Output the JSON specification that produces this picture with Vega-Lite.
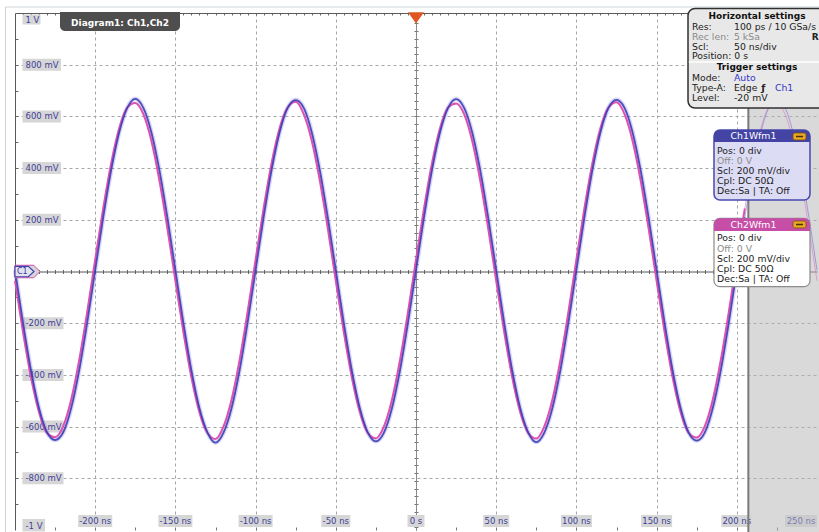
{
"$schema":"https://vega.github.io/schema/vega-lite/v6.json",
"width":802,"height":517,"autosize":"none",
"padding":{"left":15,"top":13,"right":2,"bottom":2},
"background":"#ffffff",
"config":{"view":{"stroke":null},"font":"DejaVu Sans"},
"data":{"values":[{}]},
"datasets":{
"wave":[
{"t":-250,"c1":0.005,"c2":-0.036},{"t":-245,"c1":-0.199,"c2":-0.234},{"t":-240,"c1":-0.383,"c2":-0.409},{"t":-235,"c1":-0.529,"c2":-0.544},{"t":-230,"c1":-0.623,"c2":-0.625},{"t":-225,"c1":-0.652,"c2":-0.641},{"t":-220,"c1":-0.623,"c2":-0.599},{"t":-215,"c1":-0.529,"c2":-0.496},{"t":-210,"c1":-0.383,"c2":-0.343},{"t":-205,"c1":-0.199,"c2":-0.157},
{"t":-200,"c1":0.005,"c2":0.046},{"t":-195,"c1":0.209,"c2":0.244},{"t":-190,"c1":0.393,"c2":0.419},{"t":-185,"c1":0.539,"c2":0.554},{"t":-180,"c1":0.633,"c2":0.635},{"t":-175,"c1":0.668,"c2":0.652},{"t":-170,"c1":0.633,"c2":0.609},{"t":-165,"c1":0.539,"c2":0.506},{"t":-160,"c1":0.393,"c2":0.353},{"t":-155,"c1":0.209,"c2":0.167},
{"t":-150,"c1":0.005,"c2":-0.036},{"t":-145,"c1":-0.199,"c2":-0.234},{"t":-140,"c1":-0.383,"c2":-0.409},{"t":-135,"c1":-0.529,"c2":-0.544},{"t":-130,"c1":-0.623,"c2":-0.625},{"t":-125,"c1":-0.662,"c2":-0.648},{"t":-120,"c1":-0.623,"c2":-0.599},{"t":-115,"c1":-0.529,"c2":-0.496},{"t":-110,"c1":-0.383,"c2":-0.343},{"t":-105,"c1":-0.199,"c2":-0.157},
{"t":-100,"c1":0.005,"c2":0.046},{"t":-95,"c1":0.209,"c2":0.244},{"t":-90,"c1":0.393,"c2":0.419},{"t":-85,"c1":0.539,"c2":0.554},{"t":-80,"c1":0.633,"c2":0.635},{"t":-75,"c1":0.663,"c2":0.657},{"t":-70,"c1":0.633,"c2":0.609},{"t":-65,"c1":0.539,"c2":0.506},{"t":-60,"c1":0.393,"c2":0.353},{"t":-55,"c1":0.209,"c2":0.167},
{"t":-50,"c1":0.005,"c2":-0.036},{"t":-45,"c1":-0.199,"c2":-0.234},{"t":-40,"c1":-0.383,"c2":-0.409},{"t":-35,"c1":-0.529,"c2":-0.544},{"t":-30,"c1":-0.623,"c2":-0.625},{"t":-25,"c1":-0.657,"c2":-0.645},{"t":-20,"c1":-0.623,"c2":-0.599},{"t":-15,"c1":-0.529,"c2":-0.496},{"t":-10,"c1":-0.383,"c2":-0.343},{"t":-5,"c1":-0.199,"c2":-0.157},
{"t":0,"c1":0.005,"c2":0.046},{"t":5,"c1":0.209,"c2":0.244},{"t":10,"c1":0.393,"c2":0.419},{"t":15,"c1":0.539,"c2":0.554},{"t":20,"c1":0.633,"c2":0.635},{"t":25,"c1":0.667,"c2":0.650},{"t":30,"c1":0.633,"c2":0.609},{"t":35,"c1":0.539,"c2":0.506},{"t":40,"c1":0.393,"c2":0.353},{"t":45,"c1":0.209,"c2":0.167},
{"t":50,"c1":0.005,"c2":-0.036},{"t":55,"c1":-0.199,"c2":-0.234},{"t":60,"c1":-0.383,"c2":-0.409},{"t":65,"c1":-0.529,"c2":-0.544},{"t":70,"c1":-0.623,"c2":-0.625},{"t":75,"c1":-0.660,"c2":-0.646},{"t":80,"c1":-0.623,"c2":-0.599},{"t":85,"c1":-0.529,"c2":-0.496},{"t":90,"c1":-0.383,"c2":-0.343},{"t":95,"c1":-0.199,"c2":-0.157},
{"t":100,"c1":0.005,"c2":0.046},{"t":105,"c1":0.209,"c2":0.244},{"t":110,"c1":0.393,"c2":0.419},{"t":115,"c1":0.539,"c2":0.554},{"t":120,"c1":0.633,"c2":0.635},{"t":125,"c1":0.664,"c2":0.655},{"t":130,"c1":0.633,"c2":0.609},{"t":135,"c1":0.539,"c2":0.506},{"t":140,"c1":0.393,"c2":0.353},{"t":145,"c1":0.209,"c2":0.167},
{"t":150,"c1":0.005,"c2":-0.036},{"t":155,"c1":-0.199,"c2":-0.234},{"t":160,"c1":-0.383,"c2":-0.409},{"t":165,"c1":-0.529,"c2":-0.544},{"t":170,"c1":-0.623,"c2":-0.625},{"t":175,"c1":-0.654,"c2":-0.642},{"t":180,"c1":-0.623,"c2":-0.599},{"t":185,"c1":-0.529,"c2":-0.496},{"t":190,"c1":-0.383,"c2":-0.343},{"t":195,"c1":-0.199,"c2":-0.157},
{"t":200,"c1":0.005,"c2":0.046},{"t":205,"c1":0.209,"c2":0.244},{"t":210,"c1":0.393,"c2":0.419},{"t":215,"c1":0.539,"c2":0.554},{"t":220,"c1":0.633,"c2":0.635},{"t":225,"c1":0.661,"c2":0.653},{"t":230,"c1":0.633,"c2":0.609},{"t":235,"c1":0.539,"c2":0.506},{"t":240,"c1":0.393,"c2":0.353},{"t":245,"c1":0.209,"c2":0.167},
{"t":250,"c1":0.005,"c2":-0.036}
],
"ylab":[{"v":1,"label":"1 V"},{"v":0.8,"label":"800 mV"},{"v":0.6,"label":"600 mV"},{"v":0.4,"label":"400 mV"},{"v":0.2,"label":"200 mV"},{"v":-0.2,"label":"-200 mV"},{"v":-0.4,"label":"-400 mV"},{"v":-0.6,"label":"-600 mV"},{"v":-0.8,"label":"-800 mV"},{"v":-1,"label":"-1 V"}],
"xlab":[{"t":-200,"label":"-200 ns"},{"t":-150,"label":"-150 ns"},{"t":-100,"label":"-100 ns"},{"t":-50,"label":"-50 ns"},{"t":0,"label":"0 s"},{"t":50,"label":"50 ns"},{"t":100,"label":"100 ns"},{"t":150,"label":"150 ns"},{"t":200,"label":"200 ns"},{"t":250,"label":"250 ns"}]
},
"resolve":{"axis":{"x":"independent","y":"independent"}},
"layer":[
{"mark":{"type":"point","opacity":0},"encoding":{
 "x":{"datum":0,"type":"quantitative","scale":{"domain":[-250,250],"nice":false,"zero":false},"axis":{"orient":"bottom","values":[-200,-150,-100,-50,0,50,100,150,200],"grid":true,"gridColor":"#a6a6a6","gridDash":[3,3],"gridWidth":1,"ticks":false,"labels":false,"domain":false,"title":null}},
 "y":{"datum":0,"type":"quantitative","scale":{"domain":[-1,1],"nice":false,"zero":false},"axis":{"orient":"left","values":[-0.8,-0.6,-0.4,-0.2,0.2,0.4,0.6,0.8],"grid":true,"gridColor":"#a6a6a6","gridDash":[3,3],"gridWidth":1,"ticks":false,"labels":false,"domain":false,"title":null}}}},
{"mark":{"type":"point","opacity":0},"encoding":{
 "x":{"datum":0,"type":"quantitative","axis":{"orient":"top","values":[-245,-240,-235,-230,-225,-220,-215,-210,-205,-200,-195,-190,-185,-180,-175,-170,-165,-160,-155,-150,-145,-140,-135,-130,-125,-120,-115,-110,-105,-100,-95,-90,-85,-80,-75,-70,-65,-60,-55,-50,-45,-40,-35,-30,-25,-20,-15,-10,-5,0,5,10,15,20,25,30,35,40,45,50,55,60,65,70,75,80,85,90,95,100,105,110,115,120,125,130,135,140,145,150,155,160,165,170,175,180,185,190,195,200,205,210,215,220,225,230,235,240,245],"grid":false,"tickSize":-2,"tickColor":"#666666","labels":false,"domain":true,"domainColor":"#5a5a5a","title":null}},
 "y":{"datum":0,"type":"quantitative","axis":{"orient":"left","values":[-0.9,-0.8,-0.7,-0.6,-0.5,-0.4,-0.3,-0.2,-0.1,0,0.1,0.2,0.3,0.4,0.5,0.6,0.7,0.8,0.9],"grid":false,"tickSize":-3,"tickColor":"#666666","labels":false,"domain":true,"domainColor":"#5a5a5a","title":null}}}},
{"mark":{"type":"point","opacity":0},"encoding":{
 "x":{"datum":0,"type":"quantitative","axis":{"orient":"bottom","values":[-225,-200,-175,-150,-125,-100,-75,-50,-25,0,25,50,75,100,125,150,175,200,225],"grid":false,"tickSize":-3,"tickColor":"#777777","labels":false,"domain":false,"title":null}},
 "y":{"datum":0,"type":"quantitative","axis":{"orient":"left","offset":-401,"values":[-0.99,-0.96,-0.93,-0.9,-0.87,-0.84,-0.81,-0.78,-0.75,-0.72,-0.69,-0.66,-0.63,-0.6,-0.57,-0.54,-0.51,-0.48,-0.45,-0.42,-0.39,-0.36,-0.33,-0.3,-0.27,-0.24,-0.21,-0.18,-0.15,-0.12,-0.09,-0.06,-0.03,0,0.03,0.06,0.09,0.12,0.15,0.18,0.21,0.24,0.27,0.3,0.33,0.36,0.39,0.42,0.45,0.48,0.51,0.54,0.57,0.6,0.63,0.66,0.69,0.72,0.75,0.78,0.81,0.84,0.87,0.9,0.93,0.96,0.99],"grid":false,"tickSize":2,"tickColor":"#777777","labels":false,"domain":true,"domainColor":"#8a8a8a","title":null}}}},
{"mark":{"type":"point","opacity":0},"encoding":{
 "x":{"datum":0,"type":"quantitative","axis":{"orient":"bottom","offset":-258.5,"values":[-245,-240,-235,-230,-225,-220,-215,-210,-205,-200,-195,-190,-185,-180,-175,-170,-165,-160,-155,-150,-145,-140,-135,-130,-125,-120,-115,-110,-105,-100,-95,-90,-85,-80,-75,-70,-65,-60,-55,-50,-45,-40,-35,-30,-25,-20,-15,-10,-5,0,5,10,15,20,25,30,35,40,45,50,55,60,65,70,75,80,85,90,95,100,105,110,115,120,125,130,135,140,145,150,155,160,165,170,175,180,185,190,195,200,205,210,215,220,225,230,235,240,245],"grid":false,"tickSize":2,"tickColor":"#666666","labels":false,"domain":true,"domainColor":"#555555","title":null}},
 "y":{"datum":0,"type":"quantitative","axis":{"orient":"right","offset":-401,"values":[-0.99,-0.96,-0.93,-0.9,-0.87,-0.84,-0.81,-0.78,-0.75,-0.72,-0.69,-0.66,-0.63,-0.6,-0.57,-0.54,-0.51,-0.48,-0.45,-0.42,-0.39,-0.36,-0.33,-0.3,-0.27,-0.24,-0.21,-0.18,-0.15,-0.12,-0.09,-0.06,-0.03,0,0.03,0.06,0.09,0.12,0.15,0.18,0.21,0.24,0.27,0.3,0.33,0.36,0.39,0.42,0.45,0.48,0.51,0.54,0.57,0.6,0.63,0.66,0.69,0.72,0.75,0.78,0.81,0.84,0.87,0.9,0.93,0.96,0.99],"grid":false,"tickSize":2,"tickColor":"#777777","labels":false,"domain":false,"title":null}}}},
{"mark":{"type":"point","opacity":0},"encoding":{
 "x":{"datum":0,"type":"quantitative","axis":{"orient":"top","offset":-258.5,"values":[-245,-240,-235,-230,-225,-220,-215,-210,-205,-200,-195,-190,-185,-180,-175,-170,-165,-160,-155,-150,-145,-140,-135,-130,-125,-120,-115,-110,-105,-100,-95,-90,-85,-80,-75,-70,-65,-60,-55,-50,-45,-40,-35,-30,-25,-20,-15,-10,-5,0,5,10,15,20,25,30,35,40,45,50,55,60,65,70,75,80,85,90,95,100,105,110,115,120,125,130,135,140,145,150,155,160,165,170,175,180,185,190,195,200,205,210,215,220,225,230,235,240,245],"grid":false,"tickSize":2,"tickColor":"#666666","labels":false,"domain":false,"title":null}},
 "y":{"datum":0,"type":"quantitative","axis":null}}},
{"mark":{"type":"rule","stroke":"#cdd5db","strokeWidth":1},"encoding":{"x":{"datum":-255.9,"type":"quantitative","axis":null},"y":{"datum":1.0232,"type":"quantitative","axis":null},"y2":{"datum":-1.02}}},
{"mark":{"type":"rule","stroke":"#cdd5db","strokeWidth":1},"encoding":{"x":{"datum":-255.9,"type":"quantitative","axis":null},"x2":{"datum":256},"y":{"datum":1.0232,"type":"quantitative","axis":null}}},
{"mark":{"type":"rect","fill":"#b3b3b3","opacity":0.5},"encoding":{"x":{"datum":207.2,"type":"quantitative","axis":null},"x2":{"datum":256},"y":{"datum":1,"type":"quantitative","axis":null},"y2":{"datum":-1.02}}},
{"data":{"name":"ylab"},"transform":[{"filter":"datum.v > 0 && datum.v < 1"}],"mark":{"type":"rect","fill":"#d6d6d6","xOffset":7.5,"x2Offset":46,"yOffset":-6,"y2Offset":6},"encoding":{"x":{"datum":-250,"type":"quantitative","axis":null},"x2":{"datum":-250},"y":{"field":"v","type":"quantitative","axis":null},"y2":{"field":"v"}}},
{"data":{"name":"ylab"},"transform":[{"filter":"datum.v < 0 && datum.v > -1"}],"mark":{"type":"rect","fill":"#d6d6d6","xOffset":7.5,"x2Offset":48.5,"yOffset":-6,"y2Offset":6},"encoding":{"x":{"datum":-250,"type":"quantitative","axis":null},"x2":{"datum":-250},"y":{"field":"v","type":"quantitative","axis":null},"y2":{"field":"v"}}},
{"data":{"name":"ylab"},"transform":[{"filter":"datum.v == 1"}],"mark":{"type":"rect","fill":"#d6d6d6","xOffset":7.5,"x2Offset":25.5,"yOffset":1.5,"y2Offset":11.5},"encoding":{"x":{"datum":-250,"type":"quantitative","axis":null},"x2":{"datum":-250},"y":{"field":"v","type":"quantitative","axis":null},"y2":{"field":"v"}}},
{"data":{"name":"ylab"},"transform":[{"filter":"datum.v == -1"}],"mark":{"type":"rect","fill":"#d6d6d6","xOffset":7.5,"x2Offset":30,"yOffset":-11,"y2Offset":1.5},"encoding":{"x":{"datum":-250,"type":"quantitative","axis":null},"x2":{"datum":-250},"y":{"field":"v","type":"quantitative","axis":null},"y2":{"field":"v"}}},
{"data":{"name":"ylab"},"transform":[{"filter":"abs(datum.v) < 1"}],"mark":{"type":"text","align":"left","baseline":"middle","dx":10.5,"fontSize":8.5,"fill":"#3f3f98"},"encoding":{"x":{"datum":-250,"type":"quantitative","axis":null},"y":{"field":"v","type":"quantitative","axis":null},"text":{"field":"label"}}},
{"data":{"name":"ylab"},"transform":[{"filter":"datum.v == 1"}],"mark":{"type":"text","align":"left","baseline":"middle","dx":10.5,"dy":6.5,"fontSize":8.5,"fill":"#3f3f98"},"encoding":{"x":{"datum":-250,"type":"quantitative","axis":null},"y":{"field":"v","type":"quantitative","axis":null},"text":{"field":"label"}}},
{"data":{"name":"ylab"},"transform":[{"filter":"datum.v == -1"}],"mark":{"type":"text","align":"left","baseline":"middle","dx":10.5,"dy":-4.5,"fontSize":8.5,"fill":"#3f3f98"},"encoding":{"x":{"datum":-250,"type":"quantitative","axis":null},"y":{"field":"v","type":"quantitative","axis":null},"text":{"field":"label"}}},
{"data":{"name":"xlab"},"transform":[{"filter":"datum.t <= -100"}],"mark":{"type":"rect","fill":"#d6d6d6","xOffset":-17,"x2Offset":17,"yOffset":-15,"y2Offset":-3},"encoding":{"x":{"field":"t","type":"quantitative","axis":null},"x2":{"field":"t"},"y":{"datum":-1,"type":"quantitative","axis":null},"y2":{"datum":-1}}},
{"data":{"name":"xlab"},"transform":[{"filter":"datum.t == -50"}],"mark":{"type":"rect","fill":"#d6d6d6","xOffset":-14.5,"x2Offset":14.5,"yOffset":-15,"y2Offset":-3},"encoding":{"x":{"field":"t","type":"quantitative","axis":null},"x2":{"field":"t"},"y":{"datum":-1,"type":"quantitative","axis":null},"y2":{"datum":-1}}},
{"data":{"name":"xlab"},"transform":[{"filter":"datum.t == 0"}],"mark":{"type":"rect","fill":"#d6d6d6","xOffset":-8.5,"x2Offset":8.5,"yOffset":-15,"y2Offset":-3},"encoding":{"x":{"field":"t","type":"quantitative","axis":null},"x2":{"field":"t"},"y":{"datum":-1,"type":"quantitative","axis":null},"y2":{"datum":-1}}},
{"data":{"name":"xlab"},"transform":[{"filter":"datum.t == 50"}],"mark":{"type":"rect","fill":"#d6d6d6","xOffset":-13,"x2Offset":13,"yOffset":-15,"y2Offset":-3},"encoding":{"x":{"field":"t","type":"quantitative","axis":null},"x2":{"field":"t"},"y":{"datum":-1,"type":"quantitative","axis":null},"y2":{"datum":-1}}},
{"data":{"name":"xlab"},"transform":[{"filter":"datum.t >= 100 && datum.t <= 200"}],"mark":{"type":"rect","fill":"#d6d6d6","xOffset":-15.5,"x2Offset":15.5,"yOffset":-15,"y2Offset":-3},"encoding":{"x":{"field":"t","type":"quantitative","axis":null},"x2":{"field":"t"},"y":{"datum":-1,"type":"quantitative","axis":null},"y2":{"datum":-1}}},
{"data":{"name":"xlab"},"transform":[{"filter":"datum.t == 250"}],"mark":{"type":"rect","fill":"#cbcbcb","xOffset":-32,"x2Offset":0,"yOffset":-15,"y2Offset":-3},"encoding":{"x":{"field":"t","type":"quantitative","axis":null},"x2":{"field":"t"},"y":{"datum":-1,"type":"quantitative","axis":null},"y2":{"datum":-1}}},
{"data":{"name":"xlab"},"transform":[{"filter":"datum.t < 250"}],"mark":{"type":"text","align":"center","baseline":"middle","dy":-9,"fontSize":8.5,"fill":"#3f3f98"},"encoding":{"x":{"field":"t","type":"quantitative","axis":null},"y":{"datum":-1,"type":"quantitative","axis":null},"text":{"field":"label"}}},
{"data":{"name":"xlab"},"transform":[{"filter":"datum.t == 250"}],"mark":{"type":"text","align":"center","baseline":"middle","dx":-16,"dy":-9,"fontSize":8.5,"fill":"#7c7cba"},"encoding":{"x":{"field":"t","type":"quantitative","axis":null},"y":{"datum":-1,"type":"quantitative","axis":null},"text":{"field":"label"}}},
{"mark":{"type":"rule","stroke":"#7a7a7a","strokeWidth":2},"encoding":{"x":{"datum":207.2,"type":"quantitative","axis":null},"y":{"datum":1,"type":"quantitative","axis":null},"y2":{"datum":-1.02}}},
{"data":{"name":"wave"},"transform":[{"filter":"datum.t >= 205"}],"mark":{"type":"line","interpolate":"monotone","stroke":"#e070c0","strokeWidth":1,"opacity":0.55},"encoding":{"x":{"field":"t","type":"quantitative","axis":null},"y":{"field":"c2","type":"quantitative","axis":null}}},
{"data":{"name":"wave"},"transform":[{"filter":"datum.t >= 205"}],"mark":{"type":"line","interpolate":"monotone","stroke":"#6a6ad6","strokeWidth":1,"opacity":0.55},"encoding":{"x":{"field":"t","type":"quantitative","axis":null},"y":{"field":"c1","type":"quantitative","axis":null}}},
{"data":{"name":"wave"},"transform":[{"filter":"datum.t <= 205"}],"mark":{"type":"line","interpolate":"monotone","stroke":"#6060d8","strokeWidth":4.5,"opacity":0.25},"encoding":{"x":{"field":"t","type":"quantitative","axis":null},"y":{"field":"c1","type":"quantitative","axis":null}}},
{"data":{"name":"wave"},"transform":[{"filter":"datum.t <= 205"}],"mark":{"type":"line","interpolate":"monotone","stroke":"#e050b0","strokeWidth":2},"encoding":{"x":{"field":"t","type":"quantitative","axis":null},"y":{"field":"c2","type":"quantitative","axis":null}}},
{"data":{"name":"wave"},"transform":[{"filter":"datum.t <= 205"}],"mark":{"type":"line","interpolate":"monotone","stroke":"#3c3cb4","strokeWidth":1.8,"opacity":0.9},"encoding":{"x":{"field":"t","type":"quantitative","axis":null},"y":{"field":"c1","type":"quantitative","axis":null}}},
{"mark":{"type":"point","shape":"M-1,-0.5L0.5,-0.5L1,0L0.5,0.5L-1,0.5Z","size":625,"filled":true,"fill":"#d4d4d4","stroke":"#d050a8","strokeWidth":1,"opacity":1},"encoding":{"x":{"datum":-242.2,"type":"quantitative","axis":null},"y":{"datum":0,"type":"quantitative","axis":null}}},
{"mark":{"type":"point","shape":"M-1,-0.55L0.4,-0.55L1,0L0.4,0.55L-1,0.55Z","size":361,"filled":true,"fill":"#e2e2ee","stroke":"#4040b0","strokeWidth":1.2,"opacity":1},"encoding":{"x":{"datum":-244.1,"type":"quantitative","axis":null},"y":{"datum":0,"type":"quantitative","axis":null}}},
{"mark":{"type":"text","text":"C1","align":"center","baseline":"middle","fontSize":8,"fill":"#3838a0"},"encoding":{"x":{"datum":-245.4,"type":"quantitative","axis":null},"y":{"datum":0,"type":"quantitative","axis":null}}},
{"mark":{"type":"point","shape":"M-1,-0.7L1,-0.7L0,0.7Z","size":256,"filled":true,"fill":"#e0561e","opacity":1},"encoding":{"x":{"datum":0,"type":"quantitative","axis":null},"y":{"datum":0.981,"type":"quantitative","axis":null}}},
{"mark":{"type":"rect","fill":"#4e4e4e","cornerRadiusBottomLeft":5,"cornerRadiusBottomRight":5},"encoding":{"x":{"datum":-221.95,"type":"quantitative","axis":null},"x2":{"datum":-147.13},"y":{"datum":1.0039,"type":"quantitative","axis":null},"y2":{"datum":0.9304}}},
{"mark":{"type":"text","text":"Diagram1: Ch1,Ch2","align":"center","baseline":"middle","fontSize":9,"fontWeight":"bold","fill":"#ffffff"},"encoding":{"x":{"datum":-184.5,"type":"quantitative","axis":null},"y":{"datum":0.9615,"type":"quantitative","axis":null}}},
{"mark":{"type":"rect","fill":"#e8e8e8","stroke":"#303030","strokeWidth":1.5,"cornerRadius":7},"encoding":{"x":{"datum":169.58,"type":"quantitative","axis":null},"x2":{"datum":258},"y":{"datum":1.0174,"type":"quantitative","axis":null},"y2":{"datum":0.6325}}},
{"mark":{"type":"rule","stroke":"#ffffff","strokeWidth":1.5},"encoding":{"x":{"datum":170.1,"type":"quantitative","axis":null},"x2":{"datum":256},"y":{"datum":0.8104,"type":"quantitative","axis":null}}},
{"mark":{"type":"text","text":"Horizontal settings","align":"center","baseline":"middle","fontSize":9,"fontWeight":"bold","fill":"#111111"},"encoding":{"x":{"datum":212.6,"type":"quantitative","axis":null},"y":{"datum":0.9884,"type":"quantitative","axis":null}}},
{"mark":{"type":"text","text":"Res:","align":"left","baseline":"middle","fontSize":9.3,"fill":"#222222"},"encoding":{"x":{"datum":172.07,"type":"quantitative","axis":null},"y":{"datum":0.9458,"type":"quantitative","axis":null}}},
{"mark":{"type":"text","text":"100 ps / 10 GSa/s","align":"left","baseline":"middle","fontSize":9.3,"fill":"#222222"},"encoding":{"x":{"datum":198.25,"type":"quantitative","axis":null},"y":{"datum":0.9458,"type":"quantitative","axis":null}}},
{"mark":{"type":"text","text":"R","align":"left","baseline":"middle","fontSize":9,"fontWeight":"bold","fill":"#222222"},"encoding":{"x":{"datum":246.7,"type":"quantitative","axis":null},"y":{"datum":0.9072,"type":"quantitative","axis":null}}},
{"mark":{"type":"text","text":"Rec len:","align":"left","baseline":"middle","fontSize":9.3,"fill":"#8a8a8a"},"encoding":{"x":{"datum":172.07,"type":"quantitative","axis":null},"y":{"datum":0.9072,"type":"quantitative","axis":null}}},
{"mark":{"type":"text","text":"5 kSa","align":"left","baseline":"middle","fontSize":9.3,"fill":"#8a8a8a"},"encoding":{"x":{"datum":198.25,"type":"quantitative","axis":null},"y":{"datum":0.9072,"type":"quantitative","axis":null}}},
{"mark":{"type":"text","text":"Scl:","align":"left","baseline":"middle","fontSize":9.3,"fill":"#222222"},"encoding":{"x":{"datum":172.07,"type":"quantitative","axis":null},"y":{"datum":0.8704,"type":"quantitative","axis":null}}},
{"mark":{"type":"text","text":"50 ns/div","align":"left","baseline":"middle","fontSize":9.3,"fill":"#222222"},"encoding":{"x":{"datum":198.25,"type":"quantitative","axis":null},"y":{"datum":0.8704,"type":"quantitative","axis":null}}},
{"mark":{"type":"text","text":"Position: 0 s","align":"left","baseline":"middle","fontSize":9.3,"fill":"#222222"},"encoding":{"x":{"datum":172.07,"type":"quantitative","axis":null},"y":{"datum":0.8337,"type":"quantitative","axis":null}}},
{"mark":{"type":"text","text":"Trigger settings","align":"center","baseline":"middle","fontSize":9,"fontWeight":"bold","fill":"#111111"},"encoding":{"x":{"datum":212.6,"type":"quantitative","axis":null},"y":{"datum":0.7892,"type":"quantitative","axis":null}}},
{"mark":{"type":"text","text":"Mode:","align":"left","baseline":"middle","fontSize":9.3,"fill":"#222222"},"encoding":{"x":{"datum":172.07,"type":"quantitative","axis":null},"y":{"datum":0.7486,"type":"quantitative","axis":null}}},
{"mark":{"type":"text","text":"Auto","align":"left","baseline":"middle","fontSize":9.3,"fill":"#3434c8"},"encoding":{"x":{"datum":198.25,"type":"quantitative","axis":null},"y":{"datum":0.7486,"type":"quantitative","axis":null}}},
{"mark":{"type":"text","text":"Type-A:","align":"left","baseline":"middle","fontSize":9.3,"fill":"#222222"},"encoding":{"x":{"datum":172.07,"type":"quantitative","axis":null},"y":{"datum":0.7099,"type":"quantitative","axis":null}}},
{"mark":{"type":"text","text":"Edge","align":"left","baseline":"middle","fontSize":9.3,"fill":"#222222"},"encoding":{"x":{"datum":198.25,"type":"quantitative","axis":null},"y":{"datum":0.7099,"type":"quantitative","axis":null}}},
{"mark":{"type":"text","text":"ƒ","align":"left","baseline":"middle","fontSize":9.5,"fontWeight":"bold","fill":"#222222"},"encoding":{"x":{"datum":215.2,"type":"quantitative","axis":null},"y":{"datum":0.7099,"type":"quantitative","axis":null}}},
{"mark":{"type":"text","text":"Ch1","align":"left","baseline":"middle","fontSize":9.3,"fill":"#3434c8"},"encoding":{"x":{"datum":223.8,"type":"quantitative","axis":null},"y":{"datum":0.7099,"type":"quantitative","axis":null}}},
{"mark":{"type":"text","text":"Level:","align":"left","baseline":"middle","fontSize":9.3,"fill":"#222222"},"encoding":{"x":{"datum":172.07,"type":"quantitative","axis":null},"y":{"datum":0.6731,"type":"quantitative","axis":null}}},
{"mark":{"type":"text","text":"-20 mV","align":"left","baseline":"middle","fontSize":9.3,"fill":"#222222"},"encoding":{"x":{"datum":198.25,"type":"quantitative","axis":null},"y":{"datum":0.6731,"type":"quantitative","axis":null}}},
{"mark":{"type":"rect","fill":"#dcdcf5","stroke":"#4848b0","strokeWidth":1.5,"cornerRadius":6},"encoding":{"x":{"datum":185.78,"type":"quantitative","axis":null},"x2":{"datum":245.63},"y":{"datum":0.5474,"type":"quantitative","axis":null},"y2":{"datum":0.2766}}},
{"mark":{"type":"rect","fill":"#4444a4","cornerRadiusTopLeft":6,"cornerRadiusTopRight":6},"encoding":{"x":{"datum":185.78,"type":"quantitative","axis":null},"x2":{"datum":245.63},"y":{"datum":0.5474,"type":"quantitative","axis":null},"y2":{"datum":0.501}}},
{"mark":{"type":"text","text":"Ch1Wfm1","align":"center","baseline":"middle","fontSize":9.3,"fill":"#ffffff"},"encoding":{"x":{"datum":210.4,"type":"quantitative","axis":null},"y":{"datum":0.5242,"type":"quantitative","axis":null}}},
{"mark":{"type":"rect","fill":"#e8a828","stroke":"#7a5000","strokeWidth":0.8,"cornerRadius":2},"encoding":{"x":{"datum":235.04,"type":"quantitative","axis":null},"x2":{"datum":243.15},"y":{"datum":0.5358,"type":"quantitative","axis":null},"y2":{"datum":0.5087}}},
{"mark":{"type":"rule","stroke":"#4a3000","strokeWidth":1.5},"encoding":{"x":{"datum":236.9,"type":"quantitative","axis":null},"x2":{"datum":241.3},"y":{"datum":0.5222,"type":"quantitative","axis":null}}},
{"mark":{"type":"text","text":"Pos: 0 div","align":"left","baseline":"middle","fontSize":9.3,"fill":"#222222"},"encoding":{"x":{"datum":187.66,"type":"quantitative","axis":null},"y":{"datum":0.4662,"type":"quantitative","axis":null}}},
{"mark":{"type":"text","text":"Off: 0 V","align":"left","baseline":"middle","fontSize":9.3,"fill":"#8c8c8c"},"encoding":{"x":{"datum":187.66,"type":"quantitative","axis":null},"y":{"datum":0.4275,"type":"quantitative","axis":null}}},
{"mark":{"type":"text","text":"Scl: 200 mV/div","align":"left","baseline":"middle","fontSize":9.3,"fill":"#222222"},"encoding":{"x":{"datum":187.66,"type":"quantitative","axis":null},"y":{"datum":0.3869,"type":"quantitative","axis":null}}},
{"mark":{"type":"text","text":"Cpl: DC 50Ω","align":"left","baseline":"middle","fontSize":9.3,"fill":"#222222"},"encoding":{"x":{"datum":187.66,"type":"quantitative","axis":null},"y":{"datum":0.3482,"type":"quantitative","axis":null}}},
{"mark":{"type":"text","text":"Dec:Sa | TA: Off","align":"left","baseline":"middle","fontSize":9.3,"fill":"#222222"},"encoding":{"x":{"datum":187.66,"type":"quantitative","axis":null},"y":{"datum":0.3114,"type":"quantitative","axis":null}}},
{"mark":{"type":"rect","fill":"#ffffff","stroke":"#8c8c8c","strokeWidth":1.2,"cornerRadius":6},"encoding":{"x":{"datum":185.78,"type":"quantitative","axis":null},"x2":{"datum":245.63},"y":{"datum":0.2058,"type":"quantitative","axis":null},"y2":{"datum":-0.0588}}},
{"mark":{"type":"rect","fill":"#c64ea6","cornerRadiusTopLeft":6,"cornerRadiusTopRight":6},"encoding":{"x":{"datum":185.78,"type":"quantitative","axis":null},"x2":{"datum":245.63},"y":{"datum":0.2058,"type":"quantitative","axis":null},"y2":{"datum":0.1567}}},
{"mark":{"type":"text","text":"Ch2Wfm1","align":"center","baseline":"middle","fontSize":9.3,"fill":"#ffffff"},"encoding":{"x":{"datum":210.4,"type":"quantitative","axis":null},"y":{"datum":0.1818,"type":"quantitative","axis":null}}},
{"mark":{"type":"rect","fill":"#e8a828","stroke":"#7a5000","strokeWidth":0.8,"cornerRadius":2},"encoding":{"x":{"datum":235.04,"type":"quantitative","axis":null},"x2":{"datum":243.15},"y":{"datum":0.1954,"type":"quantitative","axis":null},"y2":{"datum":0.1683}}},
{"mark":{"type":"rule","stroke":"#4a3000","strokeWidth":1.5},"encoding":{"x":{"datum":236.9,"type":"quantitative","axis":null},"x2":{"datum":241.3},"y":{"datum":0.1818,"type":"quantitative","axis":null}}},
{"mark":{"type":"text","text":"Pos: 0 div","align":"left","baseline":"middle","fontSize":9.3,"fill":"#222222"},"encoding":{"x":{"datum":187.66,"type":"quantitative","axis":null},"y":{"datum":0.1277,"type":"quantitative","axis":null}}},
{"mark":{"type":"text","text":"Off: 0 V","align":"left","baseline":"middle","fontSize":9.3,"fill":"#8c8c8c"},"encoding":{"x":{"datum":187.66,"type":"quantitative","axis":null},"y":{"datum":0.0882,"type":"quantitative","axis":null}}},
{"mark":{"type":"text","text":"Scl: 200 mV/div","align":"left","baseline":"middle","fontSize":9.3,"fill":"#222222"},"encoding":{"x":{"datum":187.66,"type":"quantitative","axis":null},"y":{"datum":0.0484,"type":"quantitative","axis":null}}},
{"mark":{"type":"text","text":"Cpl: DC 50Ω","align":"left","baseline":"middle","fontSize":9.3,"fill":"#222222"},"encoding":{"x":{"datum":187.66,"type":"quantitative","axis":null},"y":{"datum":0.0097,"type":"quantitative","axis":null}}},
{"mark":{"type":"text","text":"Dec:Sa | TA: Off","align":"left","baseline":"middle","fontSize":9.3,"fill":"#222222"},"encoding":{"x":{"datum":187.66,"type":"quantitative","axis":null},"y":{"datum":-0.0279,"type":"quantitative","axis":null}}}
]
}
